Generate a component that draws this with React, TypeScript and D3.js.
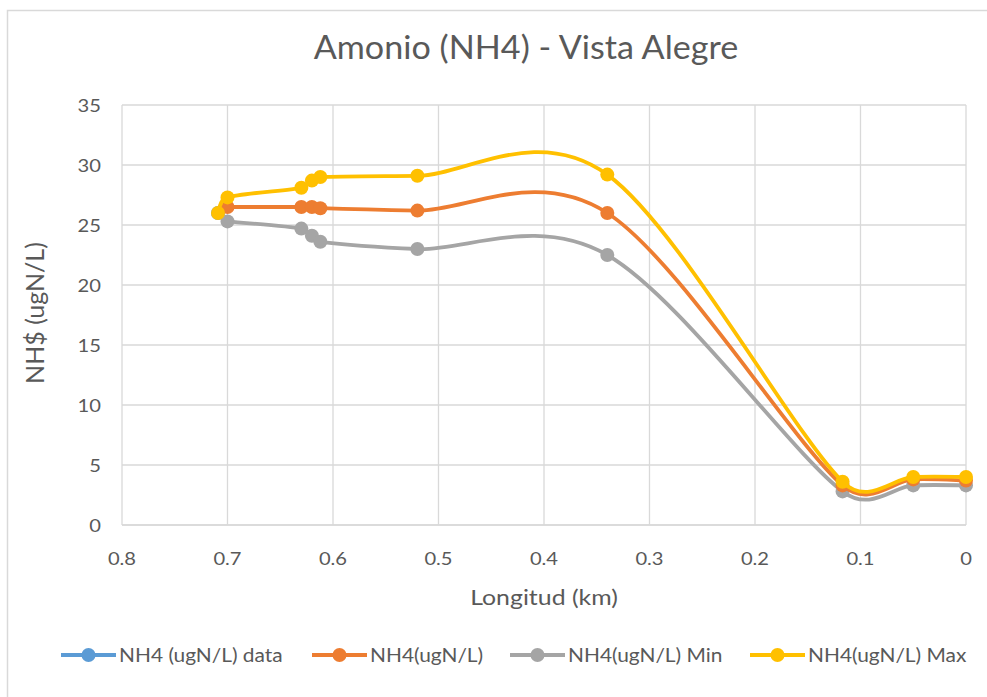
import React from "react";
import * as d3 from "d3";

const xTicks = [0.8, 0.7, 0.6, 0.5, 0.4, 0.3, 0.2, 0.1, 0];
const yTicks = [0, 5, 10, 15, 20, 25, 30, 35];

const dataX = [0.709];
const dataY = [26.0];

const avgX = [0.7, 0.63, 0.62, 0.612, 0.52, 0.34, 0.117, 0.05, 0];
const avgY = [26.5, 26.5, 26.5, 26.4, 26.2, 26.0, 3.3, 3.8, 3.7];

const minX = [0.7, 0.63, 0.62, 0.612, 0.52, 0.34, 0.117, 0.05, 0];
const minY = [25.3, 24.7, 24.1, 23.6, 23.0, 22.5, 2.8, 3.3, 3.3];

const maxX = [0.709, 0.7, 0.63, 0.62, 0.612, 0.52, 0.34, 0.117, 0.05, 0];
const maxY = [26.0, 27.3, 28.1, 28.7, 29.0, 29.1, 29.2, 3.6, 4.0, 4.0];

const seriesNames = ["NH4 (ugN/L) data", "NH4(ugN/L)", "NH4(ugN/L) Min", "NH4(ugN/L) Max"];
const colors = ["#5B9BD5", "#ED7D31", "#A5A5A5", "#FFC000"];

const FONT = "Lato, 'Open Sans', sans-serif";

// Excel-like smoothed line: cubic Bezier with Catmull-Rom tangents (1/6),
// with each control arm limited to half of its segment length.
function smoothPath(pts: [number, number][]): string {
  const p = d3.path();
  const n = pts.length;
  if (n === 0) return "";
  p.moveTo(pts[0][0], pts[0][1]);
  const tan = pts.map((_, i) => {
    const a = pts[Math.max(0, i - 1)];
    const b = pts[Math.min(n - 1, i + 1)];
    return [(b[0] - a[0]) / 6, (b[1] - a[1]) / 6];
  });
  for (let i = 0; i < n - 1; i++) {
    const P1 = pts[i], P2 = pts[i + 1];
    const seg = Math.hypot(P2[0] - P1[0], P2[1] - P1[1]);
    const lim = seg * 0.5;
    const scale = (t: number[]) => {
      const m = Math.hypot(t[0], t[1]);
      return m > lim && m > 0 ? lim / m : 1;
    };
    const s1 = scale(tan[i]);
    const s2 = scale(tan[i + 1]);
    p.bezierCurveTo(
      P1[0] + tan[i][0] * s1,
      P1[1] + tan[i][1] * s1,
      P2[0] - tan[i + 1][0] * s2,
      P2[1] - tan[i + 1][1] * s2,
      P2[0],
      P2[1]
    );
  }
  return p.toString();
}

export default function App() {
  const W = 987, H = 697;
  const x = d3.scaleLinear().domain([0.8, 0]).range([122, 966]);
  const y = d3.scaleLinear().domain([0, 35]).range([525, 105]);

  const series = [
    { xs: dataX, ys: dataY, line: false },
    { xs: avgX, ys: avgY, line: true },
    { xs: minX, ys: minY, line: true },
    { xs: maxX, ys: maxY, line: true },
  ];
  const drawOrder = [0, 2, 1, 3];

  const legendItems = [
    { lx: 61, tx: 119 },
    { lx: 312, tx: 370 },
    { lx: 510, tx: 568 },
    { lx: 750, tx: 808 },
  ];

  return (
    <svg width={W} height={H} style={{ position: "absolute", left: 0, top: 0 }} fontFamily={FONT}>
      <rect x={0} y={0} width={W} height={H} fill="#fff" />
      <rect x={7.5} y={10.5} width={990} height={700} fill="#fff" stroke="#d9d9d9" strokeWidth={1.5} />
      <text transform="translate(526,59) scale(1.035,1)" textAnchor="middle" fontSize={33} fill="#595959">
        Amonio (NH4) - Vista Alegre
      </text>
      {yTicks.map((t) => (
        <g key={"y" + t}>
          <line x1={122} x2={966} y1={y(t)} y2={y(t)} stroke="#d9d9d9" strokeWidth={1.3} />
          <text
            transform={`translate(101,${y(t) + 6.5}) scale(1.12,1)`}
            textAnchor="end"
            fontSize={18}
            fill="#595959"
          >
            {t}
          </text>
        </g>
      ))}
      {xTicks.map((t) => (
        <g key={"x" + t}>
          <line x1={x(t)} x2={x(t)} y1={105} y2={525} stroke="#d9d9d9" strokeWidth={1.3} />
          <text
            transform={`translate(${x(t)},565) scale(1.12,1)`}
            textAnchor="middle"
            fontSize={18}
            fill="#595959"
          >
            {t}
          </text>
        </g>
      ))}
      <line x1={122} x2={966} y1={525} y2={525} stroke="#d9d9d9" strokeWidth={1.3} />
      <text transform="translate(544,605) scale(1.13,1)" textAnchor="middle" fontSize={22} fill="#595959">
        Longitud (km)
      </text>
      <text transform="translate(44,313) rotate(-90)" textAnchor="middle" fontSize={25} fill="#595959">
        NH$ (ugN/L)
      </text>
      {drawOrder.map((i) => {
        const s = series[i];
        const pts = s.xs.map((v, k) => [v, s.ys[k]] as [number, number]);
        const px = pts.map((d) => [x(d[0]), y(d[1])] as [number, number]);
        return (
          <g key={"s" + i}>
            {s.line && (
              <path d={smoothPath(px)} fill="none" stroke={colors[i]} strokeWidth={3.8} strokeLinecap="round" />
            )}
            {px.map((p, k) => (
              <circle key={k} cx={p[0]} cy={p[1]} r={7} fill={colors[i]} />
            ))}
          </g>
        );
      })}
      {legendItems.map((it, i) => (
        <g key={"l" + i}>
          <line x1={it.lx} x2={it.lx + 55} y1={655} y2={655} stroke={colors[i]} strokeWidth={3.8} />
          <circle cx={it.lx + 27.5} cy={655} r={7} fill={colors[i]} />
          <text transform={`translate(${it.tx},662) scale(1.1,1)`} fontSize={19} fill="#595959">
            {seriesNames[i]}
          </text>
        </g>
      ))}
    </svg>
  );
}
